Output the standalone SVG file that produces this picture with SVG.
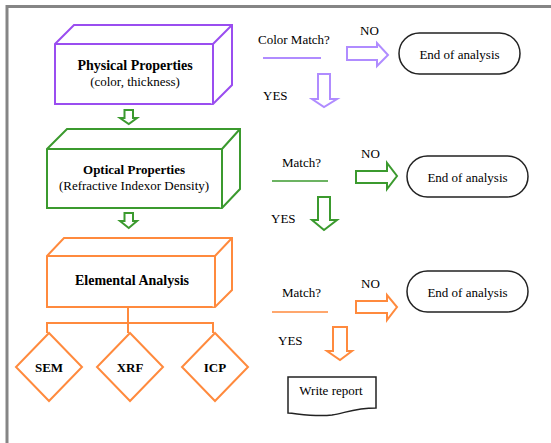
<svg xmlns="http://www.w3.org/2000/svg" width="551" height="443" viewBox="0 0 551 443" font-family="'Liberation Serif', 'Times New Roman', 'DejaVu Serif', serif">
<style>
text{font-family:'Liberation Serif','Times New Roman','DejaVu Serif',serif;fill:#000}
.b{font-weight:bold}
.t13{font-size:13px}
.t12{font-size:13px}
.t14{font-size:14px}
.pu{fill:#fff;stroke:#9a4df0;stroke-width:2}
.pua{fill:#fff;stroke:#b08cff;stroke-width:2}
.gr{fill:#fff;stroke:#3b9a2e;stroke-width:2}
.or{fill:#fff;stroke:#ff8a3d;stroke-width:2}
.orl{fill:none;stroke:#ff8a3d;stroke-width:2}
.pill{fill:#fff;stroke:#222;stroke-width:1.5}
</style>
<rect width="551" height="443" fill="#fff"/>
<path d="M7 443 V6.5 H551" fill="none" stroke="#858585" stroke-width="3"/>

<g id="physical">
<path class="pu" d="M55 44 L74 25 H232 V85 L213 104 H55 Z"/>
<path class="pu" d="M55 44 H213 V104 M213 44 L232 25" fill="none"/>
<text class="b t14" x="135" y="70" text-anchor="middle">Physical Properties</text>
<text class="t12" x="135" y="86" text-anchor="middle">(color, thickness)</text>
</g>

<g id="optical">
<path class="gr" d="M47 149 L67 129 H240 V189 L222 208 H47 Z"/>
<path class="gr" d="M47 149 H222 V208 M222 149 L240 129" fill="none"/>
<text class="b t13" x="134" y="174" text-anchor="middle">Optical Properties</text>
<text class="t12" x="134" y="190" text-anchor="middle">(Refractive Indexor Density)</text>
</g>

<g id="elemental">
<path class="or" d="M47 256 L64 238 H232 V290 L215 307 H47 Z"/>
<path class="or" d="M47 256 H215 V307 M215 256 L232 238" fill="none"/>
<text class="b t14" x="132" y="285" text-anchor="middle">Elemental Analysis</text>
</g>

<g id="sem">
<path class="or" d="M49 333 L82 367 L49 401 L16 367 Z"/>
<text class="b t13" x="49" y="372" text-anchor="middle">SEM</text>
</g>
<g id="xrf">
<path class="or" d="M130 333 L163 367 L130 401 L97 367 Z"/>
<text class="b t13" x="130" y="372" text-anchor="middle">XRF</text>
</g>
<g id="icp">
<path class="or" d="M215 333 L248 367 L215 401 L182 367 Z"/>
<text class="b t13" x="215" y="372" text-anchor="middle">ICP</text>
</g>

<g id="end1">
<rect class="pill" x="399" y="33" width="121" height="41" rx="20.5"/>
<text class="t13" x="459.5" y="59" text-anchor="middle">End of analysis</text>
</g>
<g id="end2">
<rect class="pill" x="407" y="156" width="121" height="41" rx="20.5"/>
<text class="t13" x="467.5" y="182" text-anchor="middle">End of analysis</text>
</g>
<g id="end3">
<rect class="pill" x="407" y="271" width="121" height="41" rx="20.5"/>
<text class="t13" x="467.5" y="297" text-anchor="middle">End of analysis</text>
</g>

<g id="report">
<path d="M288 377 H376 V408 C355 408 345 413 332 415 C315 417 300 414 288 413 Z" fill="#fff" stroke="#222" stroke-width="1.5"/>
<text class="t13" x="331" y="395" text-anchor="middle">Write report</text>
</g>

<g id="decision1">
<text class="t13" x="258" y="44">Color Match?</text>
<line x1="263" y1="58" x2="321" y2="58" stroke="#b08cff" stroke-width="2"/>
<text class="t13" x="360" y="35">NO</text>
<text class="t13" x="263" y="100">YES</text>
</g>
<g id="decision2">
<text class="t13" x="282" y="167">Match?</text>
<line x1="272" y1="181" x2="328" y2="181" stroke="#3b9a2e" stroke-width="1.5"/>
<text class="t13" x="361" y="158">NO</text>
<text class="t13" x="271" y="223">YES</text>
</g>
<g id="decision3">
<text class="t13" x="282" y="297">Match?</text>
<line x1="272" y1="312" x2="328" y2="312" stroke="#ff8a3d" stroke-width="1.5"/>
<text class="t13" x="361" y="288">NO</text>
<text class="t13" x="278" y="345">YES</text>
</g>

<g id="connectors">
<path class="gr" stroke-width="1.5" d="M124.5 110 H133 V118 H137 L128.75 124 L120 118 H124.5 Z"/>
<path class="gr" stroke-width="1.5" d="M124.5 213 H133 V221 H137 L128.75 228 L120 221 H124.5 Z"/>
<path class="pua" d="M347 47 H377 V43 L388 55 L377 66 V60 H347 Z"/>
<path class="pua" d="M318 74 H330 V99 H337 L324 107 L312 99 H318 Z"/>
<path class="gr" d="M356 171 H387 V163 L397 176 L387 189 V183 H356 Z"/>
<path class="gr" d="M318 197 H330 V220 H337 L324 230 L312 220 H318 Z"/>
<path class="or" d="M356 301 H387 V295 L397 307 L387 320 V313 H356 Z"/>
<path class="or" d="M333 327 H347 V351 H352 L340 360 L327 351 H333 Z"/>
<path class="orl" d="M128 307 V323 M47 333 V323 H213 V333 M128 323 V333"/>
</g>
</svg>
